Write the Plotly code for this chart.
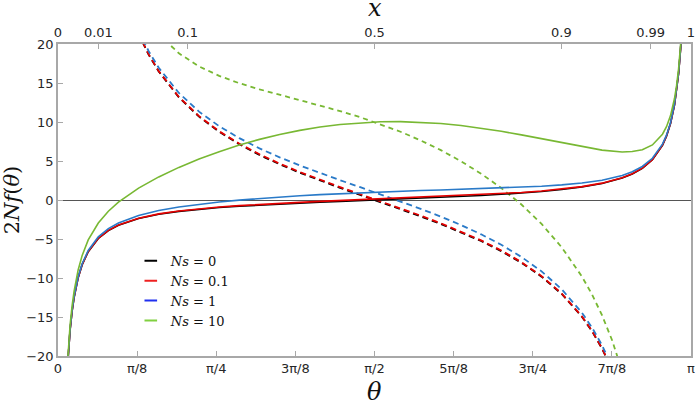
import math
import plotly.graph_objects as go

PI = math.pi

# ---- data (theta in radians) ----
theta_solid = [0.045, 0.05, 0.06, 0.07, 0.08, 0.1, 0.12, 0.15, 0.2, 0.25, 0.3, 0.4, 0.5, 0.6,
               0.7, 0.8, 0.9, 1.0, 1.1, 1.2, 1.3, 1.4, 1.5, 1.6, 1.7, 1.8, 1.9, 2.0, 2.1, 2.2,
               2.3, 2.4, 2.5, 2.6, 2.7, 2.8, 2.85, 2.9, 2.95, 3.0, 3.02, 3.04, 3.06, 3.07, 3.08,
               3.09, 3.095, 3.1]

solid_ns0 = [-22.21, -19.98, -16.65, -14.26, -12.47, -9.97, -8.29, -6.62, -4.93, -3.92, -3.23,
             -2.37, -1.83, -1.46, -1.19, -0.97, -0.79, -0.64, -0.51, -0.39, -0.28, -0.17, -0.07,
             0.03, 0.13, 0.23, 0.34, 0.46, 0.58, 0.73, 0.89, 1.09, 1.34, 1.66, 2.12, 2.81, 3.33,
             4.06, 5.16, 7.02, 8.18, 9.81, 12.23, 13.94, 16.22, 19.37, 21.45, 24.03]
solid_ns01 = [-22.20, -19.98, -16.64, -14.26, -12.47, -9.96, -8.28, -6.60, -4.91, -3.89, -3.20,
              -2.33, -1.78, -1.41, -1.12, -0.90, -0.72, -0.56, -0.42, -0.30, -0.18, -0.07, 0.03,
              0.13, 0.23, 0.33, 0.44, 0.55, 0.67, 0.81, 0.97, 1.16, 1.40, 1.71, 2.16, 2.85, 3.36,
              4.08, 5.17, 7.03, 8.20, 9.82, 12.24, 13.95, 16.22, 19.37, 21.45, 24.03]
solid_ns1 = [-22.16, -19.93, -16.59, -14.19, -12.39, -9.87, -8.17, -6.47, -4.73, -3.67, -2.94,
             -1.98, -1.35, -0.90, -0.54, -0.25, -0.01, 0.20, 0.38, 0.54, 0.69, 0.81, 0.93, 1.03,
             1.12, 1.21, 1.29, 1.37, 1.45, 1.54, 1.64, 1.77, 1.94, 2.18, 2.54, 3.15, 3.62, 4.30,
             5.35, 7.16, 8.31, 9.91, 12.31, 14.02, 16.28, 19.42, 21.49, 24.07]
solid_ns10 = [-21.76, -19.48, -16.05, -13.56, -11.67, -8.97, -7.10, -5.12, -2.95, -1.44, -0.28,
              1.53, 2.96, 4.18, 5.26, 6.20, 7.04, 7.77, 8.40, 8.93, 9.36, 9.68, 9.90, 10.03,
              10.05, 9.97, 9.80, 9.55, 9.22, 8.81, 8.35, 7.85, 7.32, 6.82, 6.39, 6.16, 6.21,
              6.45, 7.06, 8.43, 9.40, 10.82, 13.04, 14.66, 16.83, 19.88, 21.91, 24.45]

theta_dashed = [0.38, 0.4, 0.45, 0.5, 0.6, 0.7, 0.8, 0.9, 1.0, 1.1, 1.2, 1.3, 1.4, 1.5, 1.6,
                1.7, 1.8, 1.9, 2.0, 2.1, 2.2, 2.3, 2.4, 2.5, 2.6, 2.65, 2.7, 2.75, 2.8]

dashed_ns0 = [22.53, 21.29, 18.63, 16.47, 13.16, 10.69, 8.74, 7.14, 5.78, 4.58, 3.50, 2.50, 1.55,
              0.64, -0.26, -1.17, -2.10, -3.08, -4.12, -5.26, -6.55, -8.04, -9.83, -12.05,
              -14.96, -16.81, -19.04, -21.80, -25.31]
dashed_ns01 = [22.57, 21.33, 18.67, 16.52, 13.21, 10.75, 8.81, 7.22, 5.86, 4.67, 3.59, 2.60, 1.65,
               0.74, -0.16, -1.07, -2.00, -2.98, -4.03, -5.18, -6.47, -7.97, -9.76, -11.99,
               -14.91, -16.76, -19.00, -21.76, -25.28]
dashed_ns1 = [22.90, 21.68, 19.07, 16.95, 13.72, 11.33, 9.46, 7.93, 6.62, 5.47, 4.43, 3.46, 2.54,
              1.64, 0.74, -0.18, -1.13, -2.13, -3.21, -4.40, -5.74, -7.30, -9.15, -11.45,
              -14.44, -16.34, -18.61, -21.41, -24.98]
dashed_ns10 = [26.24, 25.18, 22.98, 21.27, 18.80, 17.13, 15.91, 14.97, 14.19, 13.49, 12.82, 12.14,
               11.40, 10.61, 9.73, 8.75, 7.64, 6.39, 4.97, 3.37, 1.53, -0.58, -3.07, -6.07,
               -9.80, -12.09, -14.77, -17.98, -21.96]

legend_labels = ["<i>Ns</i> = 0", "<i>Ns</i> = 0.1", "<i>Ns</i> = 1", "<i>Ns</i> = 10"]
line_colors = ["#000000", "#e60000", "#2a7ac8", "#78b833"]
legend_colors = ["#000000", "#ee2020", "#2030f0", "#80d040"]

bottom_tickvals = [0, PI / 8, PI / 4, 3 * PI / 8, PI / 2, 5 * PI / 8, 3 * PI / 4, 7 * PI / 8, PI]
bottom_ticktext = ["0", "π/8", "π/4", "3π/8", "π/2", "5π/8", "3π/4", "7π/8", "π"]
top_xvals = [0, 0.01, 0.1, 0.5, 0.9, 0.99, 1]
top_ticktext = ["0", "0.01", "0.1", "0.5", "0.9", "0.99", "1"]
top_tickvals = [2 * math.asin(math.sqrt(v)) for v in top_xvals]
y_tickvals = [-20, -15, -10, -5, 0, 5, 10, 15, 20]

fig = go.Figure()

solids = [solid_ns0, solid_ns01, solid_ns1, solid_ns10]
dasheds = [dashed_ns0, dashed_ns01, dashed_ns1, dashed_ns10]
dash_styles = ["6px,4px", "6px,4px", "6px,4px", "5px,4px"]

for i in range(4):
    fig.add_trace(go.Scatter(x=theta_dashed, y=dasheds[i], mode="lines",
                             line=dict(color=line_colors[i], width=1.8, dash=dash_styles[i]),
                             showlegend=False, hoverinfo="skip"))
for i in range(4):
    fig.add_trace(go.Scatter(x=theta_solid, y=solids[i], mode="lines",
                             line=dict(color=line_colors[i], width=1.6),
                             showlegend=False, hoverinfo="skip"))
# legend entries (short line swatches)
for i in range(4):
    fig.add_trace(go.Scatter(x=[None], y=[None], mode="markers", xaxis="x2",
                             marker=dict(symbol="line-ew", size=9,
                                         line=dict(width=2, color=legend_colors[i])),
                             name=legend_labels[i], showlegend=True))

axis_grey = "#a8a8a8"
tick_font = dict(family="DejaVu Sans", size=13, color="#262626")
title_font = dict(family="DejaVu Serif", size=24, color="#111")

fig.update_layout(
    width=697, height=404,
    margin=dict(l=58, r=6, t=44, b=48, autoexpand=False),
    paper_bgcolor="white", plot_bgcolor="white",
    showlegend=True,
    legend=dict(x=0.115, y=0.353, xanchor="left", yanchor="top",
                bgcolor="rgba(0,0,0,0)", borderwidth=0,
                font=dict(family="DejaVu Serif", size=13, color="#111")),
    xaxis=dict(range=[0, PI], tickmode="array", tickvals=bottom_tickvals, automargin=False,
               ticktext=bottom_ticktext, ticks="inside", ticklen=5, tickwidth=1.2,
               tickcolor=axis_grey, showline=True, linecolor=axis_grey, linewidth=1.5,
               mirror=False, showgrid=False, zeroline=False, tickfont=tick_font),
    xaxis2=dict(range=[0, PI], overlaying="x", side="top", anchor="y", tickmode="array",
                automargin=False,
                tickvals=top_tickvals, ticktext=top_ticktext, ticks="inside", ticklen=5,
                tickwidth=1.2, tickcolor=axis_grey, showline=True, linecolor=axis_grey,
                linewidth=1.5, showgrid=False, zeroline=False, tickfont=tick_font),
    yaxis=dict(range=[-20, 20], tickmode="array", tickvals=y_tickvals, ticks="inside",
               automargin=False,
               ticklen=5, tickwidth=1.2, tickcolor=axis_grey, showline=True,
               linecolor=axis_grey, linewidth=1.5, mirror=True, showgrid=False,
               zeroline=True, zerolinecolor="#555555", zerolinewidth=1.3,
               tickfont=tick_font,
               title=dict(text="2<i>Nf</i>(<i>θ</i>)", standoff=6,
                          font=dict(family="DejaVu Serif", size=21, color="#111"))),
    annotations=[
        dict(text="<i>θ</i>", xref="paper", yref="paper", x=0.5, y=-0.114,
             xanchor="center", yanchor="middle", showarrow=False, font=title_font),
        dict(text="<i>x</i>", xref="paper", yref="paper", x=0.5, y=1.114,
             xanchor="center", yanchor="middle", showarrow=False, font=title_font),
    ],
)

fig.write_html("out.html",
               config={"displayModeBar": False},
               post_script="document.body.style.margin='0px';"
                           "document.body.style.overflow='hidden';")
